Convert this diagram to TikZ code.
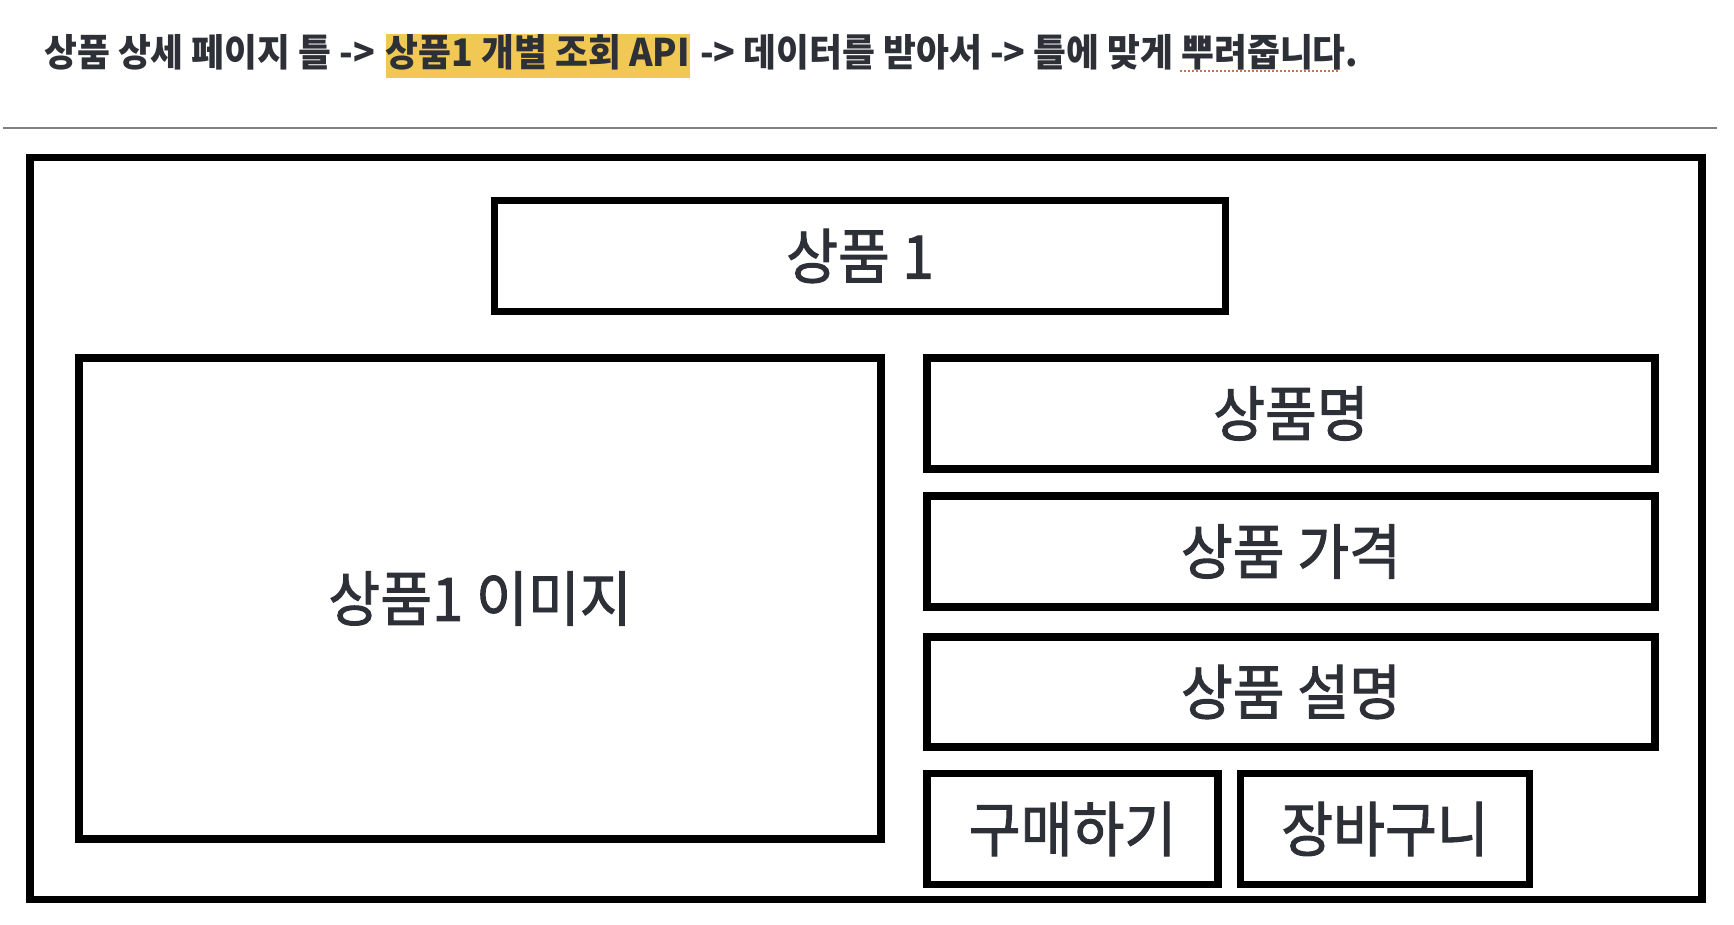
\documentclass[tikz,border=0pt]{standalone}
\usepackage{fontspec}
\newfontfamily\kr[FakeStretch=0.94]{Noto Sans CJK KR}
\newfontfamily\krbox[FakeStretch=0.94, FakeBold=1.6]{Noto Sans CJK KR}
\definecolor{ink}{HTML}{2E3038}
\definecolor{hlyellow}{HTML}{F0C853}
\definecolor{spell}{HTML}{C8744E}
\begin{document}
\begin{tikzpicture}[x=1pt, y=-1pt,
    hdr/.style={anchor=base west, inner sep=0pt, text=ink, font=\kr\bfseries\fontsize{38}{40}\selectfont},
    hl/.style={hdr, fill=hlyellow, text height=32pt, text depth=12pt},
    box/.style={draw, line width=7.5pt, inner sep=0pt, text=ink, font=\krbox\fontsize{60}{64}\selectfont}]
    \useasboundingbox (0,0) rectangle (1734,924);
    % header line
    \node[hdr] (hdrA) at (44,66) {상품 상세 페이지 틀 ->};
    \node[hl] (hdrB) at ([xshift=10pt]hdrA.base east) {상품1 개별 조회 API};
    \node[hdr] (hdrC) at ([xshift=10pt]hdrB.base east) {-> 데이터를 받아서 -> 틀에 맞게 뿌려줍니다.};
    \draw[spell, line width=2pt, dotted] (1180,71) -- (1340,71);
    \draw[gray, line width=1.5pt] (3,128) -- (1717,128);
    % page frame
    \node[box, minimum width=1672pt, minimum height=742pt] (page) at (866,528.5) {};
    \node[box, minimum width=731pt, minimum height=111pt] (title) at (860,256) {상품 1};
    \node[box, minimum width=802pt, minimum height=481pt] (image) at (480,598.5) {상품1 이미지};
    % right column
    \node[box, minimum width=728pt, minimum height=111pt] (name) at (1291,413.5) {상품명};
    \node[box, minimum width=728pt, minimum height=111pt] (price) at (1291,551.5) {상품 가격};
    \node[box, minimum width=728pt, minimum height=110pt] (desc) at (1291,692) {상품 설명};
    \node[box, minimum width=291pt, minimum height=111pt] (buy) at (1072.5,829) {구매하기};
    \node[box, minimum width=289pt, minimum height=111pt] (cart) at (1385,829) {장바구니};
\end{tikzpicture}
\end{document}
